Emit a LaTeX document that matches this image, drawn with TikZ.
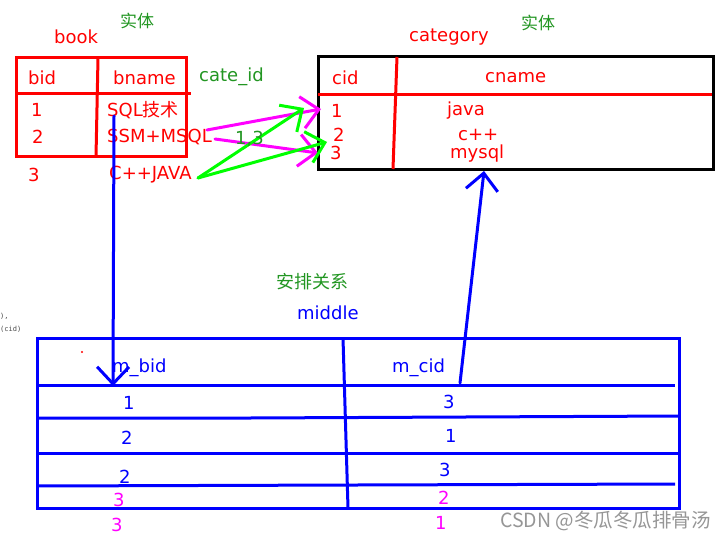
\documentclass[tikz,border=0pt]{standalone}
\usepackage{fontspec}
\setmainfont{DejaVu Sans}
\newfontfamily\cjk{Noto Sans CJK SC}
\newfontfamily\monof{DejaVu Sans Mono}
\usetikzlibrary{arrows.meta}
\definecolor{tgreen}{RGB}{34,150,34}
\definecolor{agreen}{RGB}{0,255,0}
\definecolor{mag}{RGB}{255,0,255}
\definecolor{wmgray}{RGB}{150,150,150}
\begin{document}
\begin{tikzpicture}[x=1pt,y=-1pt,
  every node/.style={inner sep=0pt,anchor=west,font=\fontsize{18}{20}\selectfont},
  tred/.style={text=red},
  tblue/.style={text=blue},
  tmag/.style={text=mag},
  tgrn/.style={text=tgreen},
  cjklbl/.style={text=tgreen,font=\cjk\fontsize{17}{20}\selectfont},
  redline/.style={draw=red,line width=3pt},
  blkline/.style={draw=black,line width=3pt},
  blueline/.style={draw=blue,line width=3pt},
  barb/.style={-{Straight Barb[length=17pt,width=32pt,line width=3pt]},line width=3pt,line cap=round,line join=round},
  magarrow/.style={barb,draw=mag},
  grnarrow/.style={barb,draw=agreen},
  bluearrow/.style={barb,draw=blue}]
\fill[white] (0,0) rectangle (727,540);
\useasboundingbox (0,0) rectangle (727,540);

% ---------- book table ----------
\draw[redline] (16,58) rectangle (186,157);
\draw[redline] (98,58) -- (96,157);
\draw[redline] (16,94) -- (191,94);
\node[cjklbl] (ent1) at (120,21) {实体};
\node[tred] (book) at (54,37) {book};
\node[tred] (bid) at (28,78) {bid};
\node[tred] (bname) at (113,78) {bname};
\node[tgrn] (cateid) at (199,77) {cate\_id};
\node[tred] (b1) at (31,110) {1};
\node[tred] (bn1) at (107,110) {SQL{\cjk 技术}};
\node[tred] (b2) at (32,137) {2};
\node[tred] (bn2) at (107,137) {SSM+MSQL};
\node[tred] (b3) at (28,175) {3};
\node[tred] (bn3) at (109,175) {C++JAVA};

% ---------- category table ----------
\draw[blkline] (318,57) rectangle (713,169);
\draw[redline] (397,57) -- (393,169);
\draw[redline] (318,95) -- (712,95);
\node[tred] (category) at (409,37) {category};
\node[cjklbl] (ent2) at (521,23) {实体};
\node[tred] (cid) at (332,78) {cid};
\node[tred] (cname) at (485,78) {cname};
\node[tred] (c1) at (331,111) {1};
\node[tred] (cn1) at (447,111) {java};
\node[tred] (c2) at (333,135) {2};
\node[tred] (cn2) at (458,135) {c++};
\node[tred] (c3) at (330,153) {3};
\node[tred] (cn3) at (450,154) {mysql};

% ---------- arrows book -> category ----------
\coordinate (m1s) at (207,130);
\coordinate (m1e) at (321,109);
\coordinate (m2s) at (215,139);
\coordinate (m2e) at (318,153);
\coordinate (gs) at (198,178);
\coordinate (g1e) at (304,108);
\coordinate (g2e) at (327,142);
\draw[magarrow] (m1s) -- (m1e);
\draw[magarrow] (m2s) -- (m2e);
\draw[grnarrow] (gs) -- (g1e);
\draw[grnarrow] (gs) -- (g2e);
\node[tgrn] (lbl13) at (235,139) {1,3};

% ---------- middle table ----------
\node[cjklbl,font=\cjk\fontsize{18}{20}\selectfont] (rel) at (276,282) {安排关系};
\node[tblue] (middle) at (297,313) {middle};
\draw[blueline] (37,338) rectangle (679,508);
\draw[blueline] (343,338) -- (348,508);
\draw[blueline] (37,385) -- (675,385);
\draw[blueline] (37,418) -- (250,418) -- (680,416);
\draw[blueline] (37,453) -- (680,453);
\draw[blueline] (37,486) -- (675,484);
\fill[red] (82,352) circle (1.2);
\node[tblue] (mbid) at (112,368) {m\_bid};
\node[tblue] (mcid) at (392,368) {m\_cid};
\node[tblue] (mb1) at (123,403) {1};
\node[tblue] (mb2) at (121,438) {2};
\node[tblue] (mb3) at (119,477) {2};
\node[tmag] (mb4) at (113,500) {3};
\node[tmag] (mb5) at (111,525) {3};
\node[tblue] (mc1) at (443,402) {3};
\node[tblue] (mc2) at (445,436) {1};
\node[tblue] (mc3) at (439,470) {3};
\node[tmag] (mc4) at (438,498) {2};
\node[tmag] (mc5) at (435,523) {1};

% ---------- blue arrows ----------
\coordinate (bds) at (114,116);
\coordinate (bde) at (113,386);
\coordinate (bus) at (460,383);
\coordinate (bue) at (484,171);
\draw[bluearrow] (bds) -- (bde);
\draw[bluearrow] (bus) -- (bue);

% ---------- fragments and watermark ----------
\node[text=black!70,font=\monof\fontsize{7}{8}\selectfont] (frag1) at (0,316) {),};
\node[text=black!70,font=\monof\fontsize{7}{8}\selectfont] (frag2) at (0,329) {(cid)};
\node[text=wmgray,font=\cjk\fontsize{19.5}{22}\selectfont] (wm) at (500,521) {CSDN @冬瓜冬瓜排骨汤};
\end{tikzpicture}
\end{document}
